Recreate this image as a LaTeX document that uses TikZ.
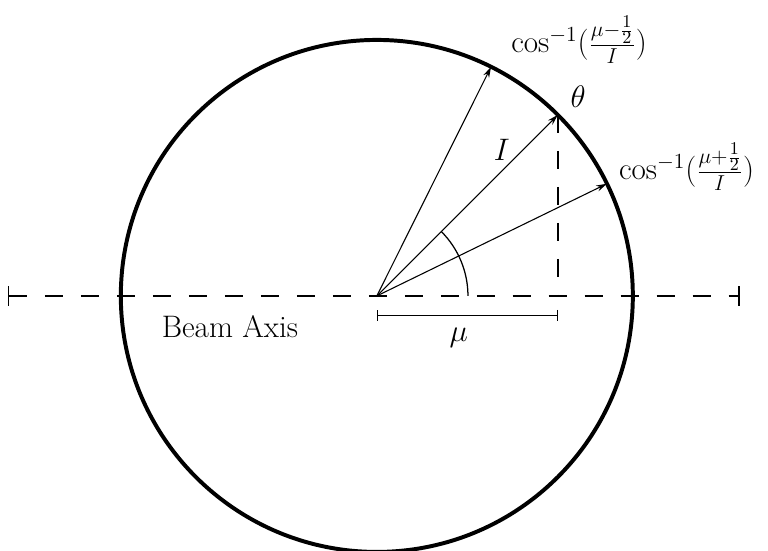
\documentclass[tikz,border=0pt]{standalone}
\usepackage{tikz}
\usetikzlibrary{positioning,arrows.meta}

\begin{document}
\begin{tikzpicture}[
  ring/.style={draw=black,line width=2.2pt},
  axis/.style={draw=black,line width=0.9pt,dash pattern=on 10pt off 10pt},
  ray/.style={-{Stealth[length=6pt,width=3.5pt]},draw=black,line width=0.6pt},
  bar/.style={{Bar[width=6pt]}-{Bar[width=6pt]},draw=black,line width=0.7pt},
  lbl/.style={font=\LARGE,inner sep=1pt}]
\useasboundingbox (-7.36,-4.98) rectangle (7.64,5.78);
\coordinate (O) at (0,0);
\coordinate (left) at (-7.21,0);
\coordinate (right) at (7.09,0);
\coordinate (upper) at (63.5:5);
\coordinate (theta) at (45:5);
\coordinate (lower) at (26:5);
\coordinate (foot) at (theta |- O);
\coordinate (mustart) at (0,-0.38);
\coordinate (muend) at (foot |- mustart);
\draw[ring] (O) circle (5);
\draw[axis,{Bar[width=11pt]}-{Bar[width=11pt]}] (left) -- (right);
\draw[ray] (O) -- (upper);
\draw[ray] (O) -- (theta);
\draw[ray] (O) -- (lower);
\draw[axis] (theta) -- (foot);
\draw[line width=0.7pt] (1.78,0) arc (0:45:1.78);
\draw[bar] (mustart) -- (muend);
\node[lbl] (beam) at (-2.87,-0.6) {Beam Axis};
\node[lbl] (mu) at (1.6,-0.82) {$\mu$};
\node[lbl] (len) at (2.44,2.85) {$I$};
\node[lbl] (th) at (3.93,3.9) {$\theta$};
\node[lbl] (cosup) at (3.95,5.0) {$\cos^{-1}(\frac{\mu-\frac{1}{2}}{I})$};
\node[lbl] (coslow) at (6.05,2.52) {$\cos^{-1}(\frac{\mu+\frac{1}{2}}{I})$};
\end{tikzpicture}
\end{document}
